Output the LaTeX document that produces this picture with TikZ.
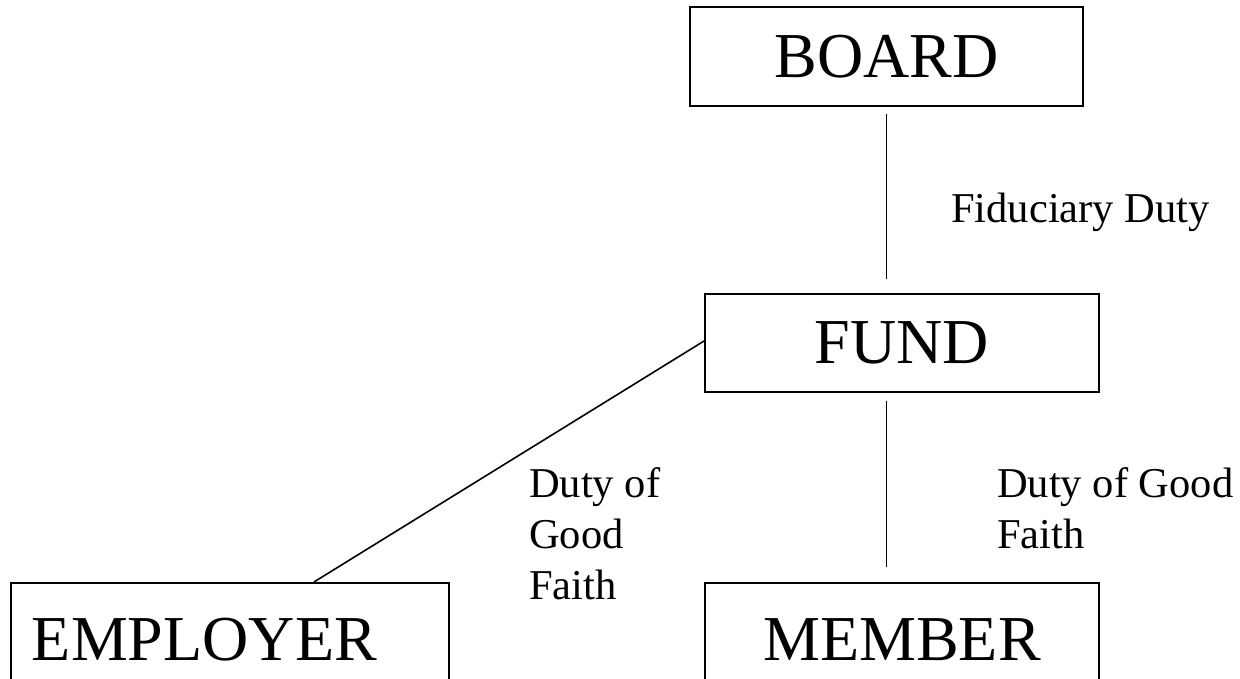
\documentclass[tikz,border=0pt]{standalone}
\usepackage{fontspec}
\setmainfont{Liberation Serif}
\usetikzlibrary{positioning}
\tikzset{%
	entity/.style   = {draw, rectangle, line width=1.9pt, minimum width=394pt, minimum height=98pt, inner sep=0pt, font=\fontsize{64}{77}\selectfont},
	duty/.style     = {align=left, anchor=base west, inner sep=0pt, font=\fontsize{42.5}{51}\selectfont}, % Relation label
	link/.style     = {line width=1.6pt},
}

\begin{document}
\begin{tikzpicture}[x=1pt,y=-1pt]
	\useasboundingbox (0,0) rectangle (1240,679);
	\node [entity,minimum width=393pt,minimum height=99pt] (board) at (886.5,56.5) {BOARD};
	\node [entity] (fund) at (902,343) {FUND};
	\node [entity,minimum height=114pt,anchor=north] (member) at (902,582) {MEMBER};
	\node [entity,minimum height=114pt,anchor=north west,text width=396pt,inner xsep=21pt,align=left] (employer) at (10,582) {EMPLOYER};
	
	\node [duty] (fiduciary) at (951,223) {Fiduciary Duty};
	\node [duty] (goodm) at (997,548) {Duty of Good\\Faith};
	\node [duty] (goode) at (529,599) {Duty of\\Good\\Faith};
	
	\draw[link] ([yshift=-7pt]board.south) -- ([yshift=14pt]board.south |- fund.north);
	\draw[link] ([yshift=-8pt]board.south |- fund.south) -- ([yshift=15pt]board.south |- member.north);
	\draw[link] ([yshift=2pt]fund.west) -- ([xshift=84pt]employer.north);
	
\end{tikzpicture}
\end{document}
